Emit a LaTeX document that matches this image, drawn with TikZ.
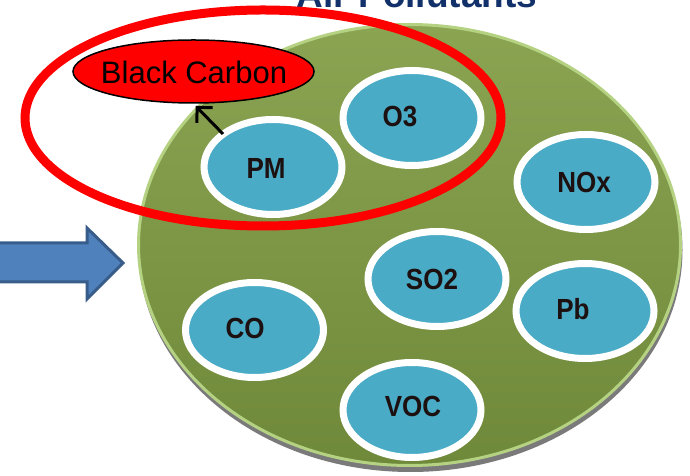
\documentclass[tikz,border=0pt]{standalone}
\usepackage{fontspec}
\setmainfont{Liberation Sans}
\usepackage{graphicx}
\usetikzlibrary{shapes.geometric,arrows.meta}
\definecolor{greenTop}{HTML}{8AA452}
\definecolor{greenBot}{HTML}{6F893A}
\definecolor{greenRim}{HTML}{B5D283}
\definecolor{blueF}{HTML}{4AABC6}
\definecolor{arrowF}{HTML}{4F81BD}
\definecolor{arrowD}{HTML}{385D8A}
\definecolor{navy}{HTML}{12306A}
\definecolor{textdark}{HTML}{1C1010}
\tikzset{
  pollut/.style={ellipse, draw=white, line width=7pt, fill=blueF,
    minimum width=138pt, minimum height=95pt, inner sep=0pt},
  lbl/.style={font=\fontsize{26}{26}\selectfont\bfseries, text=textdark, inner sep=0pt},
  bcbox/.style={ellipse, draw=black, line width=1.5pt, fill=red,
    minimum width=241pt, minimum height=63pt, inner sep=0pt},
  bigarrow/.style={fill=arrowF, draw=arrowD, line width=3pt, line join=miter},
  pointer/.style={line width=3pt, -{Straight Barb[length=11pt,width=22pt,line width=3pt]}, shorten >=3pt}
}
\newcommand{\tall}[1]{\scalebox{1}[1.12]{#1}}
\begin{document}
\begin{tikzpicture}[x=1pt,y=1pt]
\useasboundingbox (0,0) rectangle (690,476);
% title (partly cut off)
\node[font=\fontsize{37}{37}\selectfont\bfseries, text=navy, anchor=base] (title) at (417,468) {Air Pollutants};
% shadow and big green ellipse
\fill[black!65, opacity=0.8] (410.5,226) ellipse [x radius=272, y radius=222];
\node[ellipse, draw=greenRim, line width=3pt, top color=greenTop, bottom color=greenBot,
  minimum width=542pt, minimum height=441pt, inner sep=0pt] (big) at (409.5,231) {};
% blue block arrow
\draw[bigarrow] (-5,233) -- (87,233) -- (87,248) -- (123,213) -- (87,177) -- (87,194) -- (-5,194) -- cycle;
% red ring
\node[ellipse, draw=red, line width=9pt, minimum width=476pt, minimum height=216pt, inner sep=0pt] (ring) at (263,358) {};
% pollutant ellipses
\node[pollut] (o3)  at (412,358) {};
\node[pollut] (pm)  at (273,309) {};
\node[pollut] (nox) at (586,294) {};
\node[pollut] (so2) at (437,197) {};
\node[pollut] (pb)  at (585,165) {};
\node[pollut] (co)  at (254.5,146) {};
\node[pollut] (voc) at (412,66) {};
\node[lbl] (o3l)  at (400,359) {\tall{O3}};
\node[lbl] (pml)  at (266,308) {\tall{PM}};
\node[lbl] (noxl) at (584,294) {\tall{NOx}};
\node[lbl] (so2l) at (432,197) {\tall{SO2}};
\node[lbl] (pbl)  at (573,167) {\tall{Pb}};
\node[lbl] (col)  at (245,148) {\tall{CO}};
\node[lbl] (vocl) at (413,70) {\tall{VOC}};
% black carbon
\node[bcbox] (bc) at (193.5,404.5) {};
\node[font=\fontsize{31}{31}\selectfont, text=black, inner sep=0pt] (bcl) at (194,404) {Black Carbon};
\coordinate (tail) at (223,342);
\draw[pointer] (tail) -- (bc.south);
\end{tikzpicture}
\end{document}
